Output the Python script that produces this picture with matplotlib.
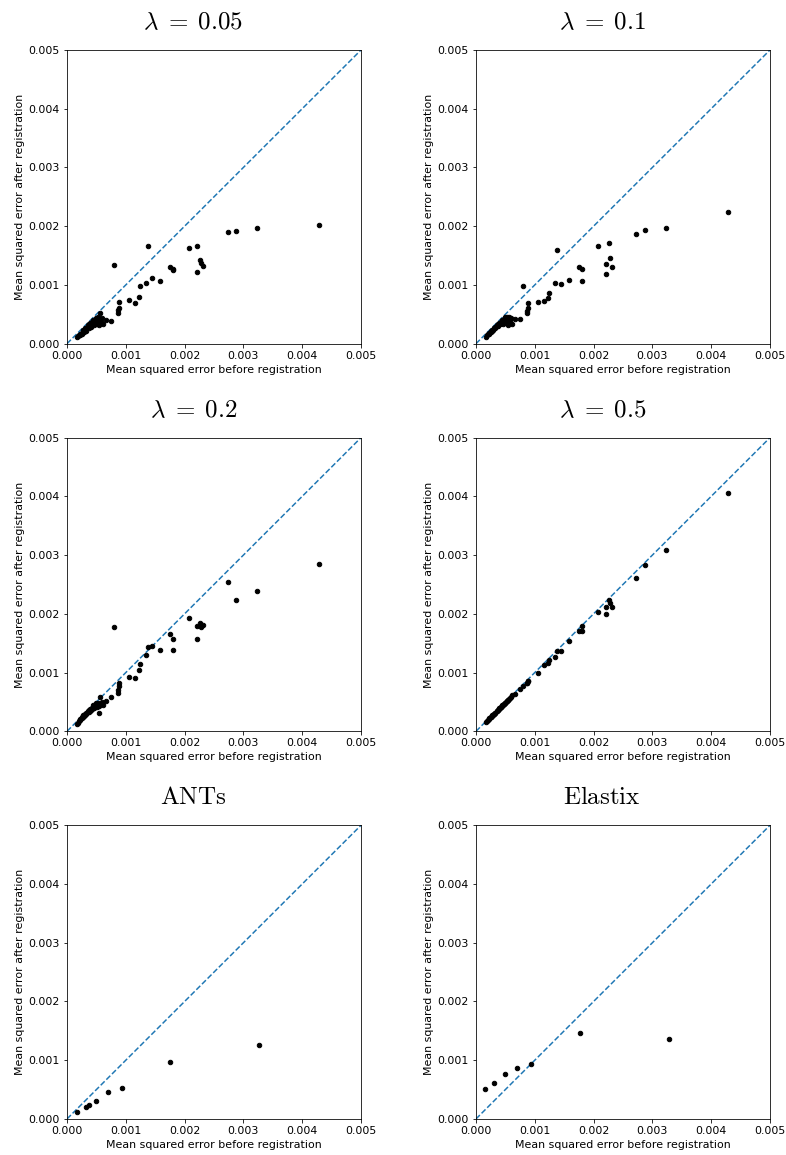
import numpy as np
import matplotlib
matplotlib.use("Agg")
import matplotlib.pyplot as plt

plt.rcParams['mathtext.fontset'] = 'cm'
plt.rcParams['font.size'] = 11

# Mean squared error before registration (x 1e-3), shared by the lambda panels
x_lambda = np.array([
    4.29, 3.24, 2.87, 2.73, 2.07, 2.21, 2.21, 2.27, 2.28, 2.32, 1.76, 1.81, 1.81,
    1.58, 1.45, 1.38, 1.34, 1.25, 1.22, 1.16, 1.05,
    0.88, 0.89, 0.87, 0.86, 0.80, 0.75,
    0.17, 0.19, 0.20, 0.22, 0.23, 0.25, 0.26, 0.27, 0.28, 0.29, 0.30, 0.31, 0.32,
    0.33, 0.35, 0.36, 0.37, 0.38, 0.39, 0.40, 0.41, 0.42, 0.43, 0.44, 0.45, 0.46,
    0.47, 0.48, 0.49, 0.50, 0.51, 0.52, 0.53, 0.54, 0.55, 0.56, 0.58, 0.60, 0.62, 0.66])

# after registration (x 1e-3)
y_005 = np.array([
    2.02, 1.97, 1.92, 1.90, 1.63, 1.67, 1.22, 1.42, 1.37, 1.32, 1.31, 1.25, 1.27,
    1.07, 1.12, 1.67, 1.04, 0.98, 0.79, 0.70, 0.75,
    0.71, 0.61, 0.58, 0.52, 1.34, 0.39,
    0.12, 0.13, 0.15, 0.14, 0.17, 0.19, 0.17, 0.21, 0.23, 0.20, 0.24, 0.26, 0.22,
    0.27, 0.29, 0.31, 0.26, 0.33, 0.30, 0.35, 0.29, 0.37, 0.33, 0.40, 0.36, 0.31,
    0.41, 0.34, 0.44, 0.38, 0.33, 0.45, 0.39, 0.35, 0.31, 0.52, 0.37, 0.44, 0.33, 0.41])
y_01 = np.array([
    2.24, 1.97, 1.94, 1.86, 1.66, 1.36, 1.18, 1.71, 1.46, 1.31, 1.31, 1.28, 1.07,
    1.08, 1.01, 1.60, 1.04, 0.86, 0.78, 0.72, 0.71,
    0.69, 0.61, 0.56, 0.52, 0.99, 0.42,
    0.12, 0.14, 0.16, 0.17, 0.18, 0.20, 0.21, 0.22, 0.24, 0.24, 0.26, 0.27, 0.26,
    0.29, 0.30, 0.32, 0.30, 0.34, 0.33, 0.36, 0.33, 0.37, 0.35, 0.41, 0.37, 0.34,
    0.42, 0.37, 0.45, 0.40, 0.36, 0.46, 0.42, 0.38, 0.31, 0.45, 0.39, 0.44, 0.34, 0.42])
y_02 = np.array([
    2.85, 2.39, 2.23, 2.54, 1.93, 1.80, 1.58, 1.85, 1.77, 1.81, 1.66, 1.57, 1.38,
    1.39, 1.46, 1.43, 1.30, 1.15, 1.04, 0.90, 0.92,
    0.82, 0.77, 0.71, 0.66, 1.77, 0.58,
    0.13, 0.15, 0.17, 0.19, 0.21, 0.22, 0.24, 0.25, 0.27, 0.26, 0.28, 0.30, 0.29,
    0.31, 0.33, 0.34, 0.33, 0.36, 0.35, 0.38, 0.37, 0.40, 0.38, 0.44, 0.41, 0.39,
    0.45, 0.42, 0.48, 0.44, 0.41, 0.49, 0.46, 0.43, 0.32, 0.59, 0.46, 0.50, 0.45, 0.52])
y_05 = np.array([
    4.06, 3.09, 2.83, 2.61, 2.04, 2.12, 2.00, 2.23, 2.18, 2.11, 1.71, 1.71, 1.79,
    1.54, 1.37, 1.37, 1.27, 1.21, 1.17, 1.13, 1.00,
    0.86, 0.86, 0.83, 0.82, 0.77, 0.72,
    0.16, 0.18, 0.19, 0.21, 0.22, 0.24, 0.25, 0.26, 0.27, 0.28, 0.29, 0.30, 0.31,
    0.32, 0.34, 0.35, 0.36, 0.37, 0.38, 0.39, 0.40, 0.41, 0.42, 0.43, 0.44, 0.45,
    0.46, 0.47, 0.48, 0.49, 0.50, 0.51, 0.52, 0.53, 0.54, 0.55, 0.57, 0.59, 0.61, 0.64])

x_ants = np.array([0.17, 0.32, 0.37, 0.49, 0.70, 0.93, 1.76, 3.26])
y_ants = np.array([0.12, 0.20, 0.24, 0.30, 0.46, 0.52, 0.97, 1.26])
x_elastix = np.array([0.16, 0.31, 0.49, 0.70, 0.93, 1.77, 3.28])
y_elastix = np.array([0.51, 0.61, 0.76, 0.86, 0.93, 1.47, 1.36])

titles = [r'$\lambda\;=\;0.05$', r'$\lambda\;=\;0.1$', r'$\lambda\;=\;0.2$',
          r'$\lambda\;=\;0.5$', r'$\mathrm{ANTs}$', r'$\mathrm{Elastix}$']
data = [(x_lambda, y_005), (x_lambda, y_01), (x_lambda, y_02), (x_lambda, y_05),
        (x_ants, y_ants), (x_elastix, y_elastix)]

fig, axes = plt.subplots(3, 2, figsize=(786 / 72, 1155 / 72), dpi=72)
fig.subplots_adjust(left=0.0852, right=0.9796, top=0.9567, bottom=0.0312,
                    wspace=0.391, hspace=0.320)

ticks = np.arange(0, 0.0051, 0.001)
for ax, (xs, ys), title in zip(axes.flat, data, titles):
    ax.plot([0, 0.005], [0, 0.005], '--', color='#1f77b4', lw=1.5)
    ax.scatter(xs * 1e-3, ys * 1e-3, s=20, c='k', zorder=3)
    ax.set_xlim(0, 0.005)
    ax.set_ylim(0, 0.005)
    ax.set_xticks(ticks)
    ax.set_yticks(ticks)
    ax.set_xticklabels(['%.3f' % t for t in ticks])
    ax.set_yticklabels(['%.3f' % t for t in ticks])
    ax.set_xlabel('Mean squared error before registration')
    ax.set_ylabel('Mean squared error after registration')
    ax.set_title(title, fontsize=25, pad=21, x=0.43)

fig.savefig('out.png', dpi=72)
